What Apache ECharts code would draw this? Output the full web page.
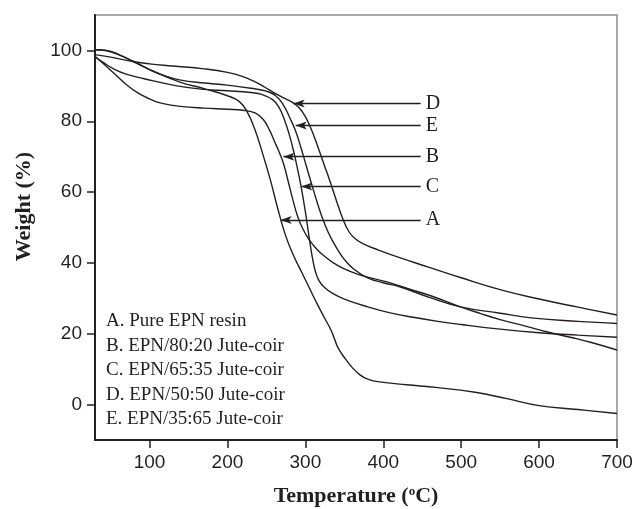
<!DOCTYPE html>
<html>
<head>
<meta charset="utf-8">
<script src="https://cdn.jsdelivr.net/npm/echarts@6/dist/echarts.min.js"></script>
<style>
html,body{margin:0;padding:0;background:#fff;}
#chart{width:637px;height:509px;}
</style>
</head>
<body>
<div id="chart"></div>
<script>
// ---- data ----
const xTicks = [100, 200, 300, 400, 500, 600, 700];
const yTicks = [0, 20, 40, 60, 80, 100];

// A. Pure EPN resin
const aTemp   = [30, 45, 60, 80, 110, 140, 170, 200, 215, 225, 235, 245, 255, 265, 275, 285, 295, 305, 315, 325, 333, 338, 342, 350, 360, 370, 380, 395, 430, 470, 520, 560, 600, 650, 700];
const aWeight = [100.2, 99.9, 98.8, 96.8, 93.6, 91.0, 89.2, 87.2, 85.6, 82.8, 77.8, 71.0, 63.5, 55.0, 47.5, 42.0, 37.5, 33.0, 28.5, 24.3, 21.0, 18.2, 16.0, 13.3, 10.5, 8.4, 7.2, 6.4, 5.6, 4.8, 3.4, 1.6, -0.3, -1.4, -2.5];
// B. EPN/80:20 Jute-coir
const bTemp   = [30, 42, 54, 70, 85, 100, 115, 140, 170, 200, 220, 236, 246, 254, 260, 266, 272, 278, 284, 290, 297, 305, 315, 325, 336, 350, 365, 385, 410, 435, 460, 499, 525, 550, 580, 611, 640, 666, 700];
const bWeight = [98.3, 96.0, 93.6, 90.4, 88.0, 86.3, 85.1, 84.2, 83.7, 83.4, 83.1, 82.3, 80.5, 77.5, 74.5, 71.5, 68.0, 63.0, 57.8, 53.2, 49.5, 46.5, 43.8, 41.8, 40.0, 38.3, 37.0, 35.7, 34.3, 32.5, 30.8, 27.6, 25.7, 24.0, 22.3, 20.5, 19.0, 17.6, 15.4];
// C. EPN/65:35 Jute-coir
const cTemp   = [30, 42, 54, 70, 93, 135, 170, 200, 230, 245, 258, 266, 273, 279, 285, 290, 295, 300, 305, 309, 313, 318, 325, 335, 350, 380, 409, 440, 470, 500, 550, 600, 650, 700];
const cWeight = [98.3, 96.4, 94.8, 93.3, 92.0, 90.0, 89.0, 88.6, 88.1, 87.5, 86.1, 84.0, 80.5, 76.5, 71.5, 66.5, 61.0, 54.5, 47.0, 41.5, 37.5, 34.8, 33.0, 31.4, 29.8, 27.6, 25.9, 24.6, 23.5, 22.6, 21.3, 20.3, 19.6, 19.0];
// D. EPN/50:50 Jute-coir
const dTemp   = [30, 50, 80, 100, 130, 170, 200, 220, 235, 248, 260, 272, 283, 292, 300, 308, 316, 324, 332, 340, 348, 356, 364, 375, 393, 422, 457, 500, 551, 600, 650, 700];
const dWeight = [98.8, 98.1, 96.8, 96.2, 95.6, 94.8, 93.8, 92.6, 91.2, 89.6, 88.0, 86.6, 85.4, 83.8, 81.3, 77.5, 72.8, 67.8, 62.8, 57.5, 52.5, 48.8, 46.8, 45.3, 43.7, 41.4, 38.9, 35.8, 32.4, 29.8, 27.5, 25.3];
// E. EPN/35:65 Jute-coir
const eTemp   = [30, 45, 60, 80, 100, 120, 140, 171, 200, 230, 250, 262, 272, 280, 287, 294, 301, 308, 315, 322, 329, 336, 343, 350, 362, 380, 400, 422, 460, 499, 550, 593, 650, 700];
const eWeight = [100.2, 100.0, 98.9, 96.8, 94.6, 92.8, 91.6, 90.8, 90.2, 89.3, 88.5, 87.2, 84.5, 81.0, 77.5, 72.8, 67.5, 62.3, 57.2, 52.6, 48.8, 45.8, 43.2, 41.0, 38.3, 35.8, 34.4, 33.2, 30.2, 27.6, 25.8, 24.4, 23.5, 22.9];

// arrows pointing at the curves
const annLetters = ['D', 'E', 'B', 'C', 'A'];
const annTipTemp = [285, 287.6, 271.8, 294.9, 268.3];
const annWeight  = [85.0, 78.8, 70.0, 61.6, 52.1];
const annEndTemp = 448;

const legendLines = [
  'A. Pure EPN resin',
  'B. EPN/80:20 Jute-coir',
  'C. EPN/65:35 Jute-coir',
  'D. EPN/50:50 Jute-coir',
  'E. EPN/35:65 Jute-coir'
];

// ---- build chart ----
const INK = '#231f20';
const SERIF = '"Liberation Serif", "Times New Roman", serif';
const SANS = '"Liberation Sans", Arial, sans-serif';

function pairs(xs, ys) { return xs.map((x, i) => [x, ys[i]]); }

const curves = {
  A: pairs(aTemp, aWeight),
  B: pairs(bTemp, bWeight),
  C: pairs(cTemp, cWeight),
  D: pairs(dTemp, dWeight),
  E: pairs(eTemp, eWeight)
};

const series = Object.keys(curves).map(k => {
  const idx = annLetters.indexOf(k);
  return {
    name: k,
    type: 'line',
    data: curves[k],
    showSymbol: false,
    smooth: 0.45,
    lineStyle: { color: INK, width: 1.4 },
    silent: true,
    animation: false,
    markLine: {
      silent: true,
      animation: false,
      symbol: ['arrow', 'none'],
      symbolSize: [6, 11],
      lineStyle: { color: INK, width: 1.3, type: 'solid' },
      label: {
        show: true,
        position: 'end',
        distance: 5,
        formatter: annLetters[idx],
        color: INK,
        fontFamily: SERIF,
        fontSize: 20
      },
      data: [[
        { coord: [annTipTemp[idx], annWeight[idx]] },
        { coord: [annEndTemp, annWeight[idx]] }
      ]]
    }
  };
});

const chart = echarts.init(document.getElementById('chart'), null, { renderer: 'canvas' });

const option = {
  backgroundColor: '#ffffff',
  animation: false,
  grid: {
    left: 95, right: 20, top: 15, bottom: 69,
    show: true, borderColor: '#8a8a8a', borderWidth: 1.5,
    containLabel: false, outerBoundsMode: 'none'
  },
  xAxis: {
    type: 'value', min: 30, max: 700,
    name: 'Temperature ({sup|o}C)',
    nameLocation: 'middle', nameGap: 45,
    nameTextStyle: {
      fontFamily: SERIF, fontWeight: 'bold', fontSize: 22, color: INK,
      rich: { sup: { fontFamily: SERIF, fontSize: 13, fontWeight: 'bold', color: INK, verticalAlign: 'top', padding: [0, 0, 10, 0] } }
    },
    axisLine: { show: true, onZero: false, lineStyle: { color: INK, width: 2 } },
    axisTick: { show: true, inside: false, length: 8, customValues: xTicks, lineStyle: { color: INK, width: 1.5 } },
    axisLabel: { customValues: xTicks, margin: 13, fontFamily: SANS, fontSize: 19, color: INK },
    splitLine: { show: false }
  },
  yAxis: {
    type: 'value', min: -10, max: 110,
    name: 'Weight (%)',
    nameLocation: 'middle', nameGap: 60,
    nameTextStyle: { fontFamily: SERIF, fontWeight: 'bold', fontSize: 22, color: INK, padding: [0, 0, 0, 42] },
    axisLine: { show: true, onZero: false, lineStyle: { color: INK, width: 2 } },
    axisTick: { show: true, inside: false, length: 8, customValues: yTicks, lineStyle: { color: INK, width: 1.5 } },
    axisLabel: { customValues: yTicks, margin: 13, fontFamily: SANS, fontSize: 19, color: INK },
    splitLine: { show: false }
  },
  graphic: legendLines.map((t, i) => ({
    type: 'text',
    left: 106,
    top: 312 + i * 24.5,
    silent: true,
    style: { text: t, fill: INK, font: '19px ' + SERIF }
  })),
  series: series
};

chart.setOption(option);
</script>
</body>
</html>
